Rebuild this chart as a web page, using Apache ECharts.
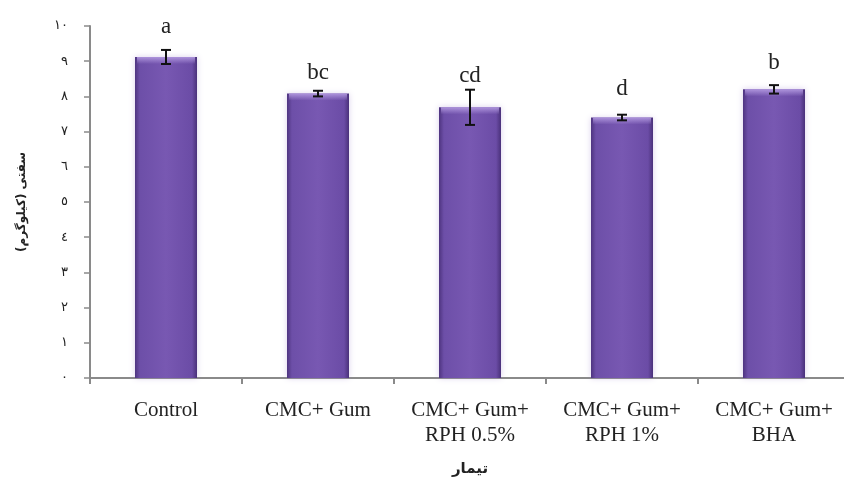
<!DOCTYPE html>
<html>
<head>
<meta charset="utf-8">
<script src="https://cdn.jsdelivr.net/npm/echarts@6/dist/echarts.min.js"></script>
<style>
  html, body { margin: 0; padding: 0; background: #ffffff; }
  #chart { width: 844px; height: 480px; }
</style>
</head>
<body>
<div id="chart"></div>
<script>
// Treatments on the category axis
var categories = ['Control', 'CMC+ Gum', 'CMC+ Gum+\nRPH 0.5%', 'CMC+ Gum+\nRPH 1%', 'CMC+ Gum+\nBHA'];
// Mean firmness (kg) and standard error for each treatment
var firmness = [9.12, 8.08, 7.69, 7.40, 8.20];
var stdError = [0.20, 0.08, 0.50, 0.08, 0.12];
// Significance letters and the height where each is written
var groupLetters = ['a', 'bc', 'cd', 'd', 'b'];
var letterHeight = [9.97, 8.66, 8.58, 8.21, 8.95];
// Arabic-Indic tick labels for 0..10
var yTickLabels = ['٠', '١', '٢', '٣', '٤', '٥', '٦', '٧', '٨', '٩', '١٠'];

var chart = echarts.init(document.getElementById('chart'));

var barFill = new echarts.graphic.LinearGradient(0, 0, 1, 0, [
  { offset: 0, color: '#4e3480' },
  { offset: 0.08, color: '#6d4fa8' },
  { offset: 0.5, color: '#7858b2' },
  { offset: 0.92, color: '#6b4ca6' },
  { offset: 1, color: '#4a317a' }
]);

var bevelFill = new echarts.graphic.LinearGradient(0, 0, 0, 1, [
  { offset: 0, color: 'rgba(180, 155, 225, 0.9)' },
  { offset: 1, color: 'rgba(180, 155, 225, 0)' }
]);

var option = {
  animation: false,
  backgroundColor: '#ffffff',
  grid: { left: 90, top: 26, width: 760, bottom: 102, containLabel: false, outerBoundsMode: 'none' },
  xAxis: {
    type: 'category',
    data: categories,
    name: 'تیمار',
    nameLocation: 'middle',
    nameGap: 84,
    nameTextStyle: { fontFamily: 'DejaVu Sans', fontSize: 15, fontWeight: 'bold', color: '#222' },
    axisLine: { lineStyle: { color: '#8a8a8a', width: 2 } },
    axisTick: { show: true, length: 6, lineStyle: { color: '#8a8a8a', width: 2 } },
    axisLabel: {
      fontFamily: 'Liberation Serif', fontSize: 21, color: '#222',
      lineHeight: 25, margin: 20, interval: 0
    }
  },
  yAxis: {
    type: 'value',
    min: 0, max: 10, interval: 1,
    name: 'سفتی (کیلوگرم)',
    nameLocation: 'middle',
    nameRotate: 90,
    nameGap: 62,
    nameTextStyle: { fontFamily: 'DejaVu Sans', fontSize: 12, fontWeight: 'bold', color: '#222' },
    splitLine: { show: false },
    axisLine: { show: true, lineStyle: { color: '#8a8a8a', width: 2 } },
    axisTick: { show: true, length: 6, lineStyle: { color: '#8a8a8a', width: 1.5 } },
    axisLabel: {
      fontFamily: 'DejaVu Sans', fontSize: 13, color: '#222', margin: 22,
      formatter: function (v) { return yTickLabels[Math.round(v)]; }
    }
  },
  series: [
    {
      type: 'bar',
      data: firmness,
      barWidth: 62,
      itemStyle: {
        color: barFill,
        shadowColor: 'rgba(150, 120, 200, 0.35)',
        shadowBlur: 6
      },
      z: 2
    },
    {
      // light bevel along the top edge of each bar
      type: 'custom',
      data: firmness.map(function (v, i) { return [i, v]; }),
      renderItem: function (params, api) {
        var p = api.coord([api.value(0), api.value(1)]);
        return {
          type: 'rect',
          shape: { x: p[0] - 29, y: p[1], width: 58, height: 7 },
          style: { fill: bevelFill }
        };
      },
      z: 3
    },
    {
      // error bars: vertical whisker with caps
      type: 'custom',
      data: firmness.map(function (v, i) { return [i, v - stdError[i], v + stdError[i]]; }),
      renderItem: function (params, api) {
        var lo = api.coord([api.value(0), api.value(1)]);
        var hi = api.coord([api.value(0), api.value(2)]);
        var half = 5;
        var style = { stroke: '#111', lineWidth: 2 };
        return {
          type: 'group',
          children: [
            { type: 'line', shape: { x1: lo[0], y1: lo[1], x2: hi[0], y2: hi[1] }, style: style },
            { type: 'line', shape: { x1: lo[0] - half, y1: lo[1], x2: lo[0] + half, y2: lo[1] }, style: style },
            { type: 'line', shape: { x1: hi[0] - half, y1: hi[1], x2: hi[0] + half, y2: hi[1] }, style: style }
          ]
        };
      },
      z: 5
    },
    {
      // significance letters above each bar
      type: 'custom',
      data: groupLetters.map(function (t, i) { return [i, letterHeight[i], t]; }),
      renderItem: function (params, api) {
        var p = api.coord([api.value(0), api.value(1)]);
        return {
          type: 'text',
          x: p[0], y: p[1],
          style: {
            text: groupLetters[params.dataIndex],
            fontFamily: 'Liberation Serif', fontSize: 23, fill: '#222',
            align: 'center', verticalAlign: 'middle'
          }
        };
      },
      z: 6
    }
  ]
};

chart.setOption(option);
</script>
</body>
</html>
